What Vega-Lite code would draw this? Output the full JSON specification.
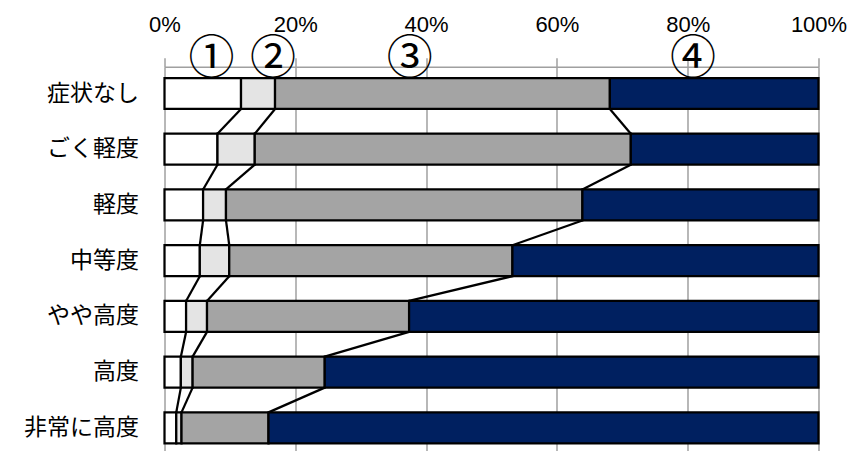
{
  "$schema": "https://vega.github.io/schema/vega-lite/v6.json",
  "width": 654,
  "height": 388,
  "autosize": {"type": "none"},
  "padding": {"left": 164.5, "top": 66.7, "right": 31.5, "bottom": 0},
  "background": "white",
  "config": {"view": {"stroke": null}},
  "datasets": {
    "shares": [
      {"cat": "症状なし", "rank": 1, "seg": "①", "value": 11.7},
      {"cat": "症状なし", "rank": 1, "seg": "②", "value": 5.2},
      {"cat": "症状なし", "rank": 1, "seg": "③", "value": 51.2},
      {"cat": "症状なし", "rank": 1, "seg": "④", "value": 31.9},
      {"cat": "ごく軽度", "rank": 2, "seg": "①", "value": 8.1},
      {"cat": "ごく軽度", "rank": 2, "seg": "②", "value": 5.7},
      {"cat": "ごく軽度", "rank": 2, "seg": "③", "value": 57.5},
      {"cat": "ごく軽度", "rank": 2, "seg": "④", "value": 28.7},
      {"cat": "軽度", "rank": 3, "seg": "①", "value": 5.9},
      {"cat": "軽度", "rank": 3, "seg": "②", "value": 3.5},
      {"cat": "軽度", "rank": 3, "seg": "③", "value": 54.5},
      {"cat": "軽度", "rank": 3, "seg": "④", "value": 36.1},
      {"cat": "中等度", "rank": 4, "seg": "①", "value": 5.4},
      {"cat": "中等度", "rank": 4, "seg": "②", "value": 4.5},
      {"cat": "中等度", "rank": 4, "seg": "③", "value": 43.3},
      {"cat": "中等度", "rank": 4, "seg": "④", "value": 46.8},
      {"cat": "やや高度", "rank": 5, "seg": "①", "value": 3.3},
      {"cat": "やや高度", "rank": 5, "seg": "②", "value": 3.2},
      {"cat": "やや高度", "rank": 5, "seg": "③", "value": 30.9},
      {"cat": "やや高度", "rank": 5, "seg": "④", "value": 62.6},
      {"cat": "高度", "rank": 6, "seg": "①", "value": 2.5},
      {"cat": "高度", "rank": 6, "seg": "②", "value": 1.8},
      {"cat": "高度", "rank": 6, "seg": "③", "value": 20.2},
      {"cat": "高度", "rank": 6, "seg": "④", "value": 75.5},
      {"cat": "非常に高度", "rank": 7, "seg": "①", "value": 1.8},
      {"cat": "非常に高度", "rank": 7, "seg": "②", "value": 0.8},
      {"cat": "非常に高度", "rank": 7, "seg": "③", "value": 13.3},
      {"cat": "非常に高度", "rank": 7, "seg": "④", "value": 84.1}
    ],
    "marks": [
      {"label": "①", "pct": 7.2},
      {"label": "②", "pct": 16.6},
      {"label": "③", "pct": 37.5},
      {"label": "④", "pct": 80.8}
    ]
  },
  "layer": [
    {
      "data": {"name": "shares"},
      "mark": {"type": "bar", "stroke": "black", "strokeWidth": 2.25, "strokeJoin": "miter"},
      "encoding": {
        "y": {
          "field": "cat", "type": "nominal", "title": null,
          "scale": {"domain": ["症状なし", "ごく軽度", "軽度", "中等度", "やや高度", "高度", "非常に高度"], "paddingInner": 0.444, "paddingOuter": 0.203},
          "axis": {"orient": "left", "domain": false, "ticks": false, "grid": false, "labelFont": "Noto Sans CJK JP", "labelFontSize": 23, "labelColor": "black", "labelPadding": 26}
        },
        "x": {
          "field": "value", "type": "quantitative", "stack": "zero", "title": null,
          "scale": {"domain": [0, 100], "nice": false},
          "axis": {"orient": "top", "values": [0, 20, 40, 60, 80, 100], "grid": true, "gridColor": "#a0a0a0", "gridWidth": 1.5, "domain": true, "domainColor": "#a0a0a0", "domainWidth": 1.5, "ticks": true, "tickColor": "#a0a0a0", "tickSize": 9, "tickWidth": 1.5, "labelFont": "Liberation Sans", "labelFontSize": 22, "labelColor": "black", "labelPadding": 21, "labelFlush": false, "labelOverlap": false, "labelExpr": "datum.value + '%'"}
        },
        "color": {
          "field": "seg", "type": "nominal", "legend": null,
          "scale": {"domain": ["①", "②", "③", "④"], "range": ["#ffffff", "#e4e4e4", "#a4a4a4", "#002060"]}
        },
        "order": {"field": "seg", "sort": "ascending"}
      }
    },
    {
      "data": {"name": "shares"},
      "transform": [
        {"window": [{"op": "sum", "field": "value", "as": "cum"}], "groupby": ["cat"], "sort": [{"field": "seg"}], "frame": [null, 0]},
        {"filter": "datum.seg !== '④'"},
        {"window": [{"op": "lead", "field": "cum", "as": "nextCum"}, {"op": "lead", "field": "cat", "as": "nextCat"}], "groupby": ["seg"], "sort": [{"field": "rank"}], "frame": [null, null]},
        {"filter": "datum.nextCat != null"}
      ],
      "mark": {"type": "rule", "color": "black", "strokeWidth": 2.25},
      "encoding": {
        "x": {"field": "cum", "type": "quantitative"},
        "x2": {"field": "nextCum"},
        "y": {"field": "cat", "type": "nominal", "bandPosition": 1},
        "y2": {"field": "nextCat", "bandPosition": 0}
      }
    },
    {
      "data": {"name": "marks"},
      "mark": {"type": "text", "font": "Noto Sans CJK JP", "fontSize": 46, "color": "black", "baseline": "middle", "align": "center", "dy": -19},
      "encoding": {
        "x": {"field": "pct", "type": "quantitative"},
        "y": {"datum": "症状なし", "type": "nominal", "bandPosition": 0},
        "text": {"field": "label"}
      }
    }
  ]
}
